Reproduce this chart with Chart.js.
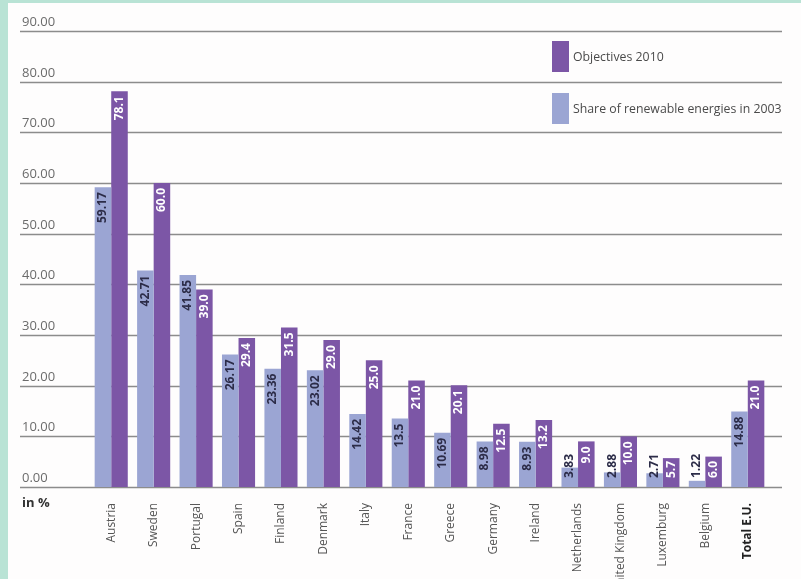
<!DOCTYPE html>
<html>
<head>
<meta charset="utf-8">
<script src="https://cdn.jsdelivr.net/npm/chart.js@4.4.0/dist/chart.umd.min.js"></script>
<style>
  body { margin: 0; background: #b9e3d5; overflow: hidden; }
  #wrap { position: absolute; left: 8px; top: 3px; width: 793px; height: 576px; background: #fefdfd; }
</style>
</head>
<body>
<div id="wrap"><canvas id="shareChart"></canvas></div>
<script>
const countries = ['Austria', 'Sweden', 'Portugal', 'Spain', 'Finland', 'Denmark', 'Italy', 'France',
    'Greece', 'Germany', 'Ireland', 'Netherlands', 'United Kingdom', 'Luxemburg', 'Belgium', 'Total E.U.'];
const share2003 = [59.17, 42.71, 41.85, 26.17, 23.36, 23.02, 14.42, 13.5, 10.69, 8.98, 8.93, 3.83, 2.88, 2.71, 1.22, 14.88];
const objectives2010 = [78.1, 60.0, 39.0, 29.4, 31.5, 29.0, 25.0, 21.0, 20.1, 12.5, 13.2, 9.0, 10.0, 5.7, 6.0, 21.0];
const yTicks = [0, 10, 20, 30, 40, 50, 60, 70, 80, 90];

const lightBar = '#9ba5d3';
const darkBar = '#7c56a6';
const fontFamily = '"Open Sans", "Liberation Sans", sans-serif';

// grid lines run wider than the bars, so they are drawn here
const gridPlugin = {
    id: 'gridLines',
    beforeDatasetsDraw(chart) {
        const ctx = chart.ctx;
        const y = chart.scales.y;
        ctx.save();
        ctx.strokeStyle = '#8c8c8c';
        ctx.lineWidth = 1.5;
        ctx.fillStyle = '#6b6b6b';
        ctx.font = '13px ' + fontFamily;
        ctx.textAlign = 'left';
        ctx.textBaseline = 'middle';
        yTicks.forEach(v => {
            const py = Math.round(y.getPixelForValue(v)) + 0.5;
            ctx.beginPath();
            ctx.moveTo(12, py);
            ctx.lineTo(774, py);
            ctx.stroke();
            ctx.fillText(v.toFixed(2), 14, py - 9);
        });
        ctx.font = 'bold 13px ' + fontFamily;
        ctx.fillStyle = '#333';
        ctx.fillText('in %', 14, y.getPixelForValue(0) + 16);
        ctx.restore();
    }
};

// value labels inside bars + legend
const labelPlugin = {
    id: 'barLabels',
    afterDatasetsDraw(chart) {
        const ctx = chart.ctx;
        const base = chart.scales.y.getPixelForValue(0);
        ctx.save();
        ctx.font = 'bold 12px ' + fontFamily;
        ctx.textBaseline = 'middle';
        ctx.textAlign = 'left';
        chart.data.datasets.forEach((ds, di) => {
            chart.getDatasetMeta(di).data.forEach((bar, i) => {
                const txt = di === 0 ? String(ds.data[i]) : ds.data[i].toFixed(1);
                const w = ctx.measureText(txt).width;
                const start = Math.min(bar.y + 5, base - 9 - w);
                ctx.save();
                ctx.translate(bar.x, start);
                ctx.rotate(-Math.PI / 2);
                ctx.fillStyle = di === 0 ? '#2c2c48' : '#ffffff';
                ctx.fillText(txt, -w, 0);
                ctx.restore();
            });
        });

        // legend
        const items = [chart.data.datasets[1], chart.data.datasets[0]];
        ctx.font = '12.3px ' + fontFamily;
        ctx.textAlign = 'left';
        items.forEach((ds, k) => {
            const top = 38 + k * 52;
            ctx.fillStyle = ds.backgroundColor;
            ctx.fillRect(544, top, 17, 31);
            ctx.fillStyle = '#4a4a4a';
            ctx.fillText(ds.label, 565, top + 16);
        });
        ctx.restore();
    }
};

const ctx = document.getElementById('shareChart').getContext('2d');
new Chart(ctx, {
    type: 'bar',
    data: {
        labels: countries,
        datasets: [{
            label: 'Share of renewable energies in 2003',
            data: share2003,
            backgroundColor: lightBar,
            categoryPercentage: 0.78,
            barPercentage: 1.0
        }, {
            label: 'Objectives 2010',
            data: objectives2010,
            backgroundColor: darkBar,
            categoryPercentage: 0.78,
            barPercentage: 1.0
        }]
    },
    options: {
        responsive: true,
        maintainAspectRatio: false,
        animation: false,
        layout: { padding: { left: 82, right: 32, top: 28, bottom: 0 } },
        scales: {
            x: {
                grid: { display: false },
                border: { display: false },
                afterFit: scale => { scale.height = 92; },
                ticks: {
                    minRotation: 90,
                    maxRotation: 90,
                    autoSkip: false,
                    padding: 8,
                    color: c => c.index === countries.length - 1 ? '#222' : '#555',
                    font: c => ({
                        family: fontFamily,
                        size: 12,
                        weight: c.index === countries.length - 1 ? 'bold' : 'normal'
                    })
                }
            },
            y: {
                display: false,
                min: 0,
                max: 90
            }
        },
        plugins: {
            legend: { display: false },
            tooltip: { enabled: false }
        }
    },
    plugins: [gridPlugin, labelPlugin]
});
</script>
</body>
</html>
